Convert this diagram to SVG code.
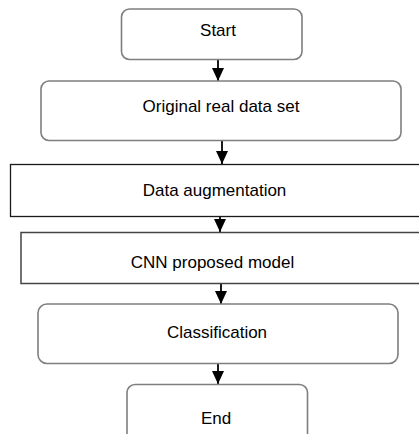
<svg xmlns="http://www.w3.org/2000/svg" width="419" height="434" viewBox="0 0 419 434">
  <defs>
    <!-- arrowhead drawn along +x, tip at the reference point -->
    <marker id="arrow" markerWidth="13" markerHeight="12" refX="13" refY="6" orient="auto" markerUnits="userSpaceOnUse" viewBox="0 0 13 12">
      <path d="M0,0 L13,6 L0,12 Z" fill="#000"/>
    </marker>
  </defs>
  <style>
    .round { fill: #fff; stroke: #7f7f7f; stroke-width: 1.6; }
    .plain { fill: #fff; stroke: #1a1a1a; stroke-width: 1.3; }
    .plain2 { fill: #fff; stroke: #444; stroke-width: 1.5; }
    .label { font-family: "Liberation Sans", Arial, sans-serif; font-size: 17px; fill: #000; text-anchor: middle; }
    .conn { stroke: #000; stroke-width: 1.8; fill: none; }
  </style>
  <rect width="419" height="434" fill="#fff"/>

  <g id="connectors">
    <line class="conn" x1="218" y1="60" x2="218" y2="81" marker-end="url(#arrow)"/>
    <line class="conn" x1="222" y1="141" x2="222" y2="164" marker-end="url(#arrow)"/>
    <line class="conn" x1="220" y1="217" x2="220" y2="232" marker-end="url(#arrow)"/>
    <line class="conn" x1="221" y1="284" x2="221" y2="304" marker-end="url(#arrow)"/>
    <line class="conn" x1="218" y1="364" x2="218" y2="384" marker-end="url(#arrow)"/>
  </g>

  <g id="start">
    <rect class="round" x="121.5" y="9" width="180.5" height="50.5" rx="8"/>
    <text class="label" x="218" y="36">Start</text>
  </g>

  <g id="original-data">
    <rect class="round" x="41" y="81" width="360" height="59.5" rx="8"/>
    <text class="label" x="221" y="112">Original real data set</text>
  </g>

  <g id="augmentation">
    <rect class="plain" x="10.5" y="164.5" width="420" height="52"/>
    <text class="label" x="214.5" y="196">Data augmentation</text>
  </g>

  <g id="cnn-model">
    <rect class="plain2" x="21" y="232.5" width="410" height="51"/>
    <text class="label" x="212.5" y="268">CNN proposed model</text>
  </g>

  <g id="classification">
    <rect class="round" x="38" y="304" width="360" height="59.5" rx="9"/>
    <text class="label" x="217" y="338">Classification</text>
  </g>

  <g id="end">
    <rect class="round" x="127" y="384.5" width="180.5" height="60" rx="8"/>
    <text class="label" x="216" y="424">End</text>
  </g>
</svg>
